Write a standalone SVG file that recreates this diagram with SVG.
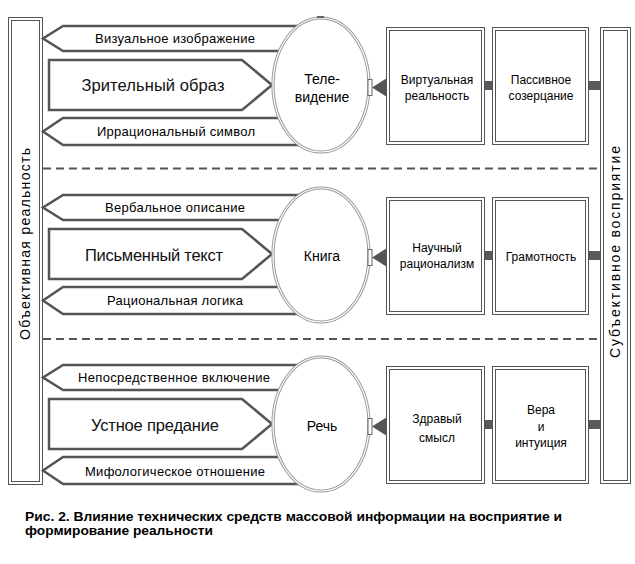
<svg xmlns="http://www.w3.org/2000/svg" width="635" height="564" viewBox="0 0 635 564">
<style>
  text { font-family: "Liberation Sans", Arial, sans-serif; fill: #000; }
  .arr { fill: none; stroke: #555; stroke-width: 2.5; stroke-linejoin: miter; }
  .pent { fill: #fff; stroke: #555; stroke-width: 2.5; }
  .lbl { font-size: 13px; text-anchor: middle; }
  .big { font-size: 16.5px; text-anchor: middle; fill: #111; }
  .ell { fill: #fff; stroke: #999; stroke-width: 3.2; }
  .ell2 { fill: none; stroke: #fff; stroke-width: 1.2; }
  .et { font-size: 14px; text-anchor: middle; }
  .bo { fill: #fff; stroke: #555; stroke-width: 1; }
  .bi { fill: none; stroke: #555; stroke-width: 1; }
  .bt { font-size: 12px; text-anchor: middle; }
  .tri { fill: #555; }
  .sq { fill: #5a5a5a; }
  .port { fill: #fff; stroke: #666; stroke-width: 1; }
  .dash { stroke: #555; stroke-width: 2; stroke-dasharray: 8 5; fill: none; }
  .vt { font-size: 14px; text-anchor: middle; }
  .cap { font-size: 12px; font-weight: bold; }
</style>

<g id="separators">
  <line class="dash" x1="43" y1="168.5" x2="600" y2="168.5"/>
  <line class="dash" x1="43" y1="339" x2="600" y2="339"/>
</g>

<g id="objective-reality">
  <rect class="bo" x="8.5" y="17.5" width="34" height="467"/>
  <rect class="bi" x="11.5" y="20.5" width="28" height="461"/>
  <text class="vt" x="30" y="244" transform="rotate(-90 30 244)" textLength="192" lengthAdjust="spacing">Объективная реальность</text>
</g>

<g id="subjective-perception">
  <rect class="bo" x="600.5" y="27.5" width="30" height="456"/>
  <rect class="bi" x="603.5" y="30.5" width="24" height="450"/>
  <text class="vt" x="620" y="252" transform="rotate(-90 620 252)" textLength="212" lengthAdjust="spacing">Субъективное восприятие</text>
</g>

<!-- Row 1 -->
<g id="visual-image">
  <polyline class="arr" points="321,26 63,26 43,38.5 63,51 321,51"/>
  <text class="lbl" x="175" y="43" textLength="160" lengthAdjust="spacing">Визуальное изображение</text>
</g>
<g id="visual-form">
  <polygon class="pent" points="49,60 242,60 272,85 242,110 49,110"/>
  <text class="big" x="153" y="91" textLength="143" lengthAdjust="spacing">Зрительный образ</text>
</g>
<g id="irrational-symbol">
  <polyline class="arr" points="321,118 63,118 43,131.5 63,145 321,145"/>
  <text class="lbl" x="176" y="136" textLength="158" lengthAdjust="spacing">Иррациональный символ</text>
</g>
<g id="television">
  <ellipse class="ell" cx="321" cy="85" rx="48" ry="67"/>
  <ellipse class="ell2" cx="321" cy="85" rx="48" ry="67"/>
  <rect x="317" y="16" width="7" height="2" fill="#666"/>
  <text class="et" x="322" y="84">Теле-</text>
  <text class="et" x="322" y="102">видение</text>
</g>
<g id="virtual-reality">
  <rect class="bo" x="386.5" y="27.5" width="98" height="117"/>
  <rect class="bi" x="389.5" y="30.5" width="92" height="111"/>
  <text class="bt" x="437" y="84">Виртуальная</text>
  <text class="bt" x="437" y="100">реальность</text>
</g>
<g id="passive-contemplation">
  <rect class="bo" x="492.5" y="27.5" width="96" height="117"/>
  <rect class="bi" x="495.5" y="30.5" width="90" height="111"/>
  <text class="bt" x="541" y="84">Пассивное</text>
  <text class="bt" x="541" y="100">созерцание</text>
</g>

<!-- Row 2 -->
<g id="verbal-description">
  <polyline class="arr" points="321,195 63,195 43,207.5 63,220 321,220"/>
  <text class="lbl" x="175" y="212" textLength="140" lengthAdjust="spacing">Вербальное описание</text>
</g>
<g id="written-text">
  <polygon class="pent" points="49,229 242,229 272,254 242,279 49,279"/>
  <text class="big" x="154" y="261" textLength="138" lengthAdjust="spacing">Письменный текст</text>
</g>
<g id="rational-logic">
  <polyline class="arr" points="321,287 63,287 43,300.5 63,314 321,314"/>
  <text class="lbl" x="175" y="305" textLength="136" lengthAdjust="spacing">Рациональная логика</text>
</g>
<g id="book">
  <ellipse class="ell" cx="321" cy="255" rx="48" ry="67"/>
  <ellipse class="ell2" cx="321" cy="255" rx="48" ry="67"/>
  <text class="et" x="322" y="261">Книга</text>
</g>
<g id="scientific-rationalism">
  <rect class="bo" x="386.5" y="197.5" width="98" height="117"/>
  <rect class="bi" x="389.5" y="200.5" width="92" height="111"/>
  <text class="bt" x="437" y="252">Научный</text>
  <text class="bt" x="437" y="268">рационализм</text>
</g>
<g id="literacy">
  <rect class="bo" x="492.5" y="197.5" width="96" height="117"/>
  <rect class="bi" x="495.5" y="200.5" width="90" height="111"/>
  <text class="bt" x="541" y="261">Грамотность</text>
</g>

<!-- Row 3 -->
<g id="direct-involvement">
  <polyline class="arr" points="321,365 63,365 43,377.5 63,390 321,390"/>
  <text class="lbl" x="174" y="382" textLength="192" lengthAdjust="spacing">Непосредственное включение</text>
</g>
<g id="oral-tradition">
  <polygon class="pent" points="49,399 242,399 272,424 242,449 49,449"/>
  <text class="big" x="155" y="431" textLength="128" lengthAdjust="spacing">Устное предание</text>
</g>
<g id="mythological-attitude">
  <polyline class="arr" points="321,457 63,457 43,470.5 63,484 321,484"/>
  <text class="lbl" x="175" y="476" textLength="180" lengthAdjust="spacing">Мифологическое отношение</text>
</g>
<g id="speech">
  <ellipse class="ell" cx="321" cy="424" rx="48" ry="67"/>
  <ellipse class="ell2" cx="321" cy="424" rx="48" ry="67"/>
  <text class="et" x="322" y="431">Речь</text>
</g>
<g id="common-sense">
  <rect class="bo" x="386.5" y="366.5" width="98" height="117"/>
  <rect class="bi" x="389.5" y="369.5" width="92" height="111"/>
  <text class="bt" x="437" y="423">Здравый</text>
  <text class="bt" x="437" y="442">смысл</text>
</g>
<g id="faith-intuition">
  <rect class="bo" x="492.5" y="366.5" width="96" height="117"/>
  <rect class="bi" x="495.5" y="369.5" width="90" height="111"/>
  <text class="bt" x="541" y="414">Вера</text>
  <text class="bt" x="541" y="431">и</text>
  <text class="bt" x="541" y="447">интуиция</text>
</g>

<g id="connectors">
  <rect class="port" x="368" y="79.5" width="4" height="16"/>
  <polygon class="tri" points="372,87.5 387,78 387,97"/>
  <rect class="sq" x="485" y="81" width="7" height="9"/>
  <rect class="sq" x="589" y="81" width="11" height="9"/>

  <rect class="port" x="368" y="249.5" width="4" height="16"/>
  <polygon class="tri" points="372,257.5 387,248 387,267"/>
  <rect class="sq" x="485" y="251" width="7" height="9"/>
  <rect class="sq" x="589" y="251" width="11" height="9"/>

  <rect class="port" x="368" y="418.5" width="4" height="16"/>
  <polygon class="tri" points="372,426.5 387,417 387,436"/>
  <rect class="sq" x="485" y="420" width="7" height="9"/>
  <rect class="sq" x="589" y="420" width="11" height="9"/>
</g>

<g id="caption">
  <text class="cap" x="25" y="521" textLength="537" lengthAdjust="spacingAndGlyphs">Рис. 2.  Влияние технических средств массовой информации на восприятие и</text>
  <text class="cap" x="25" y="535" textLength="188" lengthAdjust="spacingAndGlyphs">формирование реальности</text>
</g>
</svg>
